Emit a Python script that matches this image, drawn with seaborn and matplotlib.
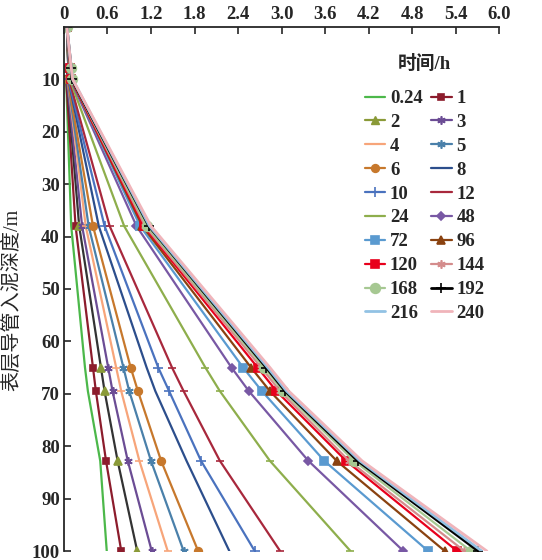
import numpy as np
import pandas as pd
import seaborn as sns
import matplotlib.pyplot as plt
from matplotlib.lines import Line2D

# depth points (m) along the conductor
depths = [0, 7.8, 10, 38, 65, 69.5, 82.8, 100]

# time labels (h)
times = ['0.24', '1', '2', '3', '4', '5', '6', '8', '10', '12',
         '24', '48', '72', '96', '120', '144', '168', '192', '216', '240']

# displacement values, one list per time
v_024 = [0.04, 0.06, 0.03, 0.10, 0.29, 0.33, 0.50, 0.59]
v_1 = [0.04, 0.06, 0.03, 0.16, 0.40, 0.44, 0.58, 0.79]
v_2 = [0.04, 0.06, 0.04, 0.21, 0.51, 0.56, 0.74, 1.01]
v_3 = [0.04, 0.07, 0.04, 0.25, 0.61, 0.67, 0.88, 1.21]
v_4 = [0.04, 0.07, 0.05, 0.30, 0.72, 0.79, 1.04, 1.43]
v_5 = [0.04, 0.07, 0.05, 0.34, 0.82, 0.90, 1.20, 1.65]
v_6 = [0.04, 0.07, 0.05, 0.40, 0.92, 1.02, 1.34, 1.85]
v_8 = [0.04, 0.07, 0.06, 0.48, 1.14, 1.26, 1.69, 2.28]
v_10 = [0.04, 0.08, 0.06, 0.56, 1.30, 1.45, 1.89, 2.63]
v_12 = [0.04, 0.08, 0.07, 0.63, 1.49, 1.65, 2.15, 2.98]
v_24 = [0.04, 0.08, 0.08, 0.83, 1.95, 2.15, 2.84, 3.95]
v_48 = [0.04, 0.09, 0.09, 1.00, 2.31, 2.55, 3.37, 4.68]
v_72 = [0.04, 0.09, 0.10, 1.05, 2.47, 2.73, 3.59, 5.02]
v_96 = [0.04, 0.09, 0.10, 1.08, 2.58, 2.84, 3.76, 5.25]
v_120 = [0.04, 0.09, 0.10, 1.10, 2.67, 2.93, 3.89, 5.42]
v_144 = [0.04, 0.10, 0.11, 1.12, 2.72, 2.98, 3.93, 5.52]
v_168 = [0.04, 0.10, 0.11, 1.14, 2.76, 3.02, 4.00, 5.61]
v_192 = [0.04, 0.10, 0.11, 1.17, 2.79, 3.05, 4.05, 5.71]
v_216 = [0.04, 0.10, 0.12, 1.18, 2.81, 3.07, 4.08, 5.76]
v_240 = [0.04, 0.10, 0.12, 1.20, 2.84, 3.10, 4.11, 5.83]

values = [v_024, v_1, v_2, v_3, v_4, v_5, v_6, v_8, v_10, v_12,
          v_24, v_48, v_72, v_96, v_120, v_144, v_168, v_192, v_216, v_240]

# style per series: colour, marker, marker size
styles = [
    ('#4cb84a', 'None', 0),
    ('#8c1c2c', 's', 5),
    ('#8a9a38', '^', 6),
    ('#6b4c94', (6, 2, 0), 6),
    ('#f7a57a', '_', 6),
    ('#4a80aa', (6, 2, 0), 6),
    ('#c7782c', 'o', 5.5),
    ('#2c4e8c', 'None', 0),
    ('#4a72be', '+', 7),
    ('#a8283c', '_', 6),
    ('#8eae4c', '_', 6),
    ('#7858a4', 'D', 4),
    ('#5a9ad0', 's', 6),
    ('#8a4210', '^', 6),
    ('#e8001c', 's', 6),
    ('#d48c8c', (6, 2, 0), 6),
    ('#a6c892', 'o', 7),
    ('#000000', '+', 7),
    ('#92c2e4', 'None', 0),
    ('#f0b4ba', 'None', 0),
]

sns.set_style('ticks')
plt.rcParams['font.family'] = ['Liberation Serif', 'Noto Sans CJK SC']

fig = plt.figure(figsize=(5.42, 5.6), dpi=100)
ax = fig.add_axes([0.118, 0.016, 0.803, 0.936])

for t, vals, (c, m, ms) in zip(times, values, styles):
    df = pd.DataFrame({'x': vals, 'depth': depths})
    lw = 2.0 if t in ('192', '216', '240') else 1.6
    # the 2 h curve is drawn dark in the original, only its markers are olive
    line_c = '#333333' if t == '2' else c
    sns.lineplot(data=df, x='x', y='depth', orient='y', sort=False, ax=ax,
                 color=line_c, marker=m, markersize=ms, markeredgecolor=c,
                 markerfacecolor=c, markeredgewidth=1.2, linewidth=lw, label=t)

ax.set_xlim(0, 6)
ax.set_ylim(100, 0)
ax.xaxis.tick_top()
xt = np.round(np.arange(0, 6.01, 0.6), 1)
ax.set_xticks(xt)
ax.set_xticklabels(['0'] + [f'{v:.1f}' for v in xt[1:]])
ax.set_yticks(range(10, 101, 10))
ax.tick_params(direction='in', length=5, width=1.2, labelsize=13.5, pad=3)
for lab in ax.get_xticklabels() + ax.get_yticklabels():
    lab.set_fontweight('bold')
ax.set_xlabel('')
ax.set_ylabel('表层导管入泥深度/m', fontsize=14.5)
ax.yaxis.set_label_coords(-0.097, 0.48)
ax.spines['right'].set_visible(False)
ax.spines['bottom'].set_visible(False)
ax.spines['left'].set_linewidth(1.3)
ax.spines['top'].set_linewidth(1.3)

# legend filled row by row like the original
handles, labels = ax.get_legend_handles_labels()
c2, m2, ms2 = styles[2]
handles[2] = Line2D([], [], color=c2, marker=m2, markersize=ms2, linewidth=1.6)
order = list(range(0, 20, 2)) + list(range(1, 20, 2))
leg = ax.legend([handles[i] for i in order], [labels[i] for i in order],
                loc='upper left', bbox_to_anchor=(0.652, 0.978), ncol=2,
                frameon=False, handlelength=1.1, handletextpad=0.25,
                columnspacing=0.45, labelspacing=0.36,
                prop={'size': 13.5, 'weight': 'bold'},
                title='时间/h', title_fontproperties={'size': 13.5, 'weight': 'bold'})
leg._legend_box.sep = 12

fig.savefig('out.png', dpi=100)
